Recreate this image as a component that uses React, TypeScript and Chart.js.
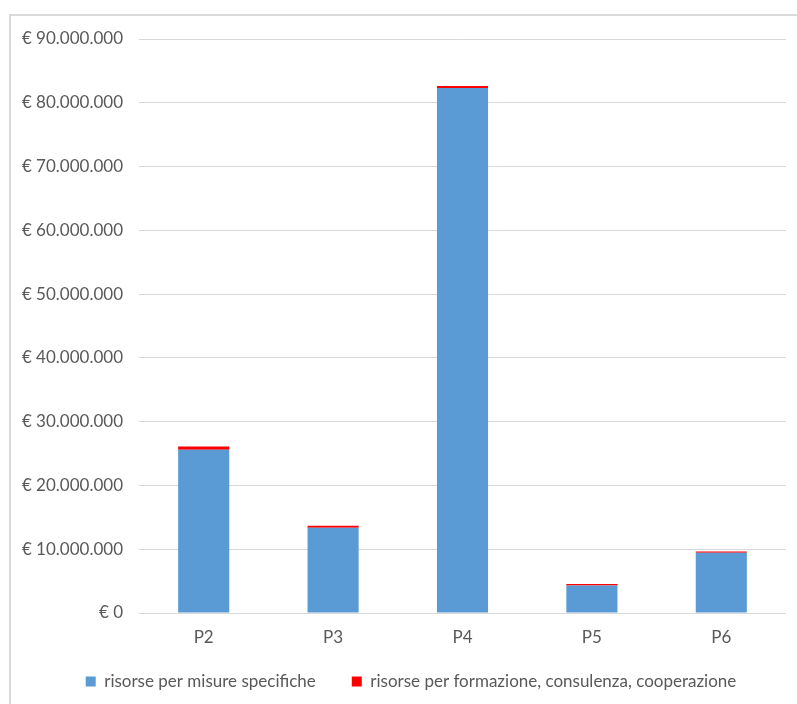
import React, { useEffect, useRef } from "react";
import { Chart, registerables } from "chart.js";

Chart.register(...registerables);

const categories = ["P2", "P3", "P4", "P5", "P6"];
const misureSpecifiche = [25600000, 13350000, 82300000, 4300000, 9450000];
const formazione = [520000, 330000, 320000, 260000, 180000];
const yMax = 90000000;
const yStep = 10000000;

const fmt = (v: number) =>
  v === 0 ? "€ 0" : "€ " + Math.round(v).toString().replace(/\B(?=(\d{3})+(?!\d))/g, ".");

const FONT = "Lato, 'Open Sans', sans-serif";
const TEXT = "#595959";

export default function App() {
  const ref = useRef<HTMLCanvasElement | null>(null);
  useEffect(() => {
    if (!ref.current) return;
    const legendPlacePlugin = {
      id: "legendPlace",
      afterInit(chart: any) {
        const lg = chart.legend;
        if (lg && !lg.__patched) {
          const orig = lg.fit;
          lg.fit = function () {
            orig.call(this);
            this.height = 51;
          };
          lg.__patched = true;
        }
      },
      afterLayout(chart: any) {
        const lg = chart.legend;
        if (lg) {
          lg.left = 36;
          lg.top = 637;
          lg.bottom = chart.height;
          lg.height = lg.bottom - lg.top;
          lg.width = lg.right - lg.left;
        }
      },
    };
    const chart = new Chart(ref.current, {
      type: "bar",
      data: {
        labels: categories,
        datasets: [
          {
            label: "risorse per misure specifiche",
            data: misureSpecifiche,
            backgroundColor: "#5b9bd5",
            barPercentage: 0.395,
            categoryPercentage: 1,
          },
          {
            label: "risorse per formazione, consulenza, cooperazione",
            data: formazione,
            backgroundColor: "#ff0000",
            barPercentage: 0.395,
            categoryPercentage: 1,
          },
        ],
      },
      plugins: [legendPlacePlugin],
      options: {
        animation: false,
        responsive: false,
        maintainAspectRatio: false,
        layout: { padding: { left: 0, right: 11, top: 39, bottom: 0 } },
        plugins: {
          tooltip: { enabled: false },
          legend: {
            position: "bottom",
            labels: {
              boxWidth: 10,
              boxHeight: 10,
              color: TEXT,
              font: { family: FONT, size: 17 },
              padding: 36,
            },
          },
        },
        scales: {
          x: {
            stacked: true,
            grid: { display: false, drawTicks: false },
            border: { display: false },
            ticks: { color: TEXT, font: { family: FONT, size: 17 }, padding: 14 },
            afterFit: (s: any) => {
              s.height = 40;
            },
          },
          y: {
            stacked: true,
            min: 0,
            max: yMax,
            grid: { color: "#d9d9d9", drawTicks: false, lineWidth: 1 },
            border: { display: false },
            ticks: {
              stepSize: yStep,
              color: TEXT,
              font: { family: FONT, size: 17 },
              padding: 16,
              callback: (v: any) => fmt(Number(v)),
            },
            afterFit: (s: any) => {
              s.width = 139;
            },
          },
        },
      },
    });
    return () => chart.destroy();
  }, []);
  return (
    <div style={{ position: "fixed", left: 0, top: 0, width: 797, height: 704, overflow: "hidden", background: "#fff" }}>
      <div
        style={{
          position: "absolute",
          left: 9,
          top: 14,
          width: 900,
          height: 800,
          borderLeft: "2px solid #d9d9d9",
          borderTop: "2px solid #d9d9d9",
        }}
      />
      <canvas ref={ref} width={797} height={704} style={{ position: "absolute", left: 0, top: 0 }} />
    </div>
  );
}
